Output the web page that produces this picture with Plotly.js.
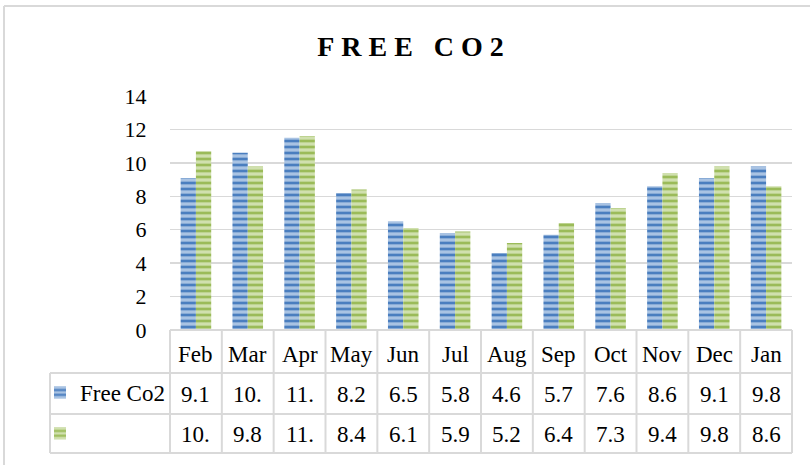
<!DOCTYPE html>
<html>
<head>
<meta charset="utf-8">
<script src="https://cdn.plot.ly/plotly-3.0.1.min.js"></script>
<style>html,body{margin:0;padding:0;background:#fff;}#chart{width:810px;height:465px;}</style>
</head>
<body>
<div id="chart"></div>
<script>
// ---- data ----
var months = ["Feb","Mar","Apr","May","Jun","Jul","Aug","Sep","Oct","Nov","Dec","Jan"];
var freeCo2 = [9.1,10.6,11.5,8.2,6.5,5.8,4.6,5.7,7.6,8.6,9.1,9.8];
var series2 = [10.7,9.8,11.6,8.4,6.1,5.9,5.2,6.4,7.3,9.4,9.8,8.6];
var seriesNames = ["Free Co2", "\u00A0"];
var yTicks = [0,2,4,6,8,10,12,14];
var titleText = "FREE CO2";

// ---- geometry helpers (pixels -> paper) ----
var W = 810, H = 465, ML = 170, MR = 18, MT = 96, MB = 135;
var PW = W - ML - MR, PH = H - MT - MB;
function px(x){ return (x - ML) / PW; }
function py(y){ return (H - MB - y) / PH; }

var grid = '#d9d9d9';
var serif = 'Liberation Serif, Times New Roman, serif';

// Excel-like truncated cell text
function cell(v){ return String(v).slice(0,3); }

var traces = [
  {type:'bar', x:months, y:freeCo2, name:seriesNames[0], legendgroup:'a',
   marker:{color:'#a9c3e3', line:{width:0},
     pattern:{shape:'-', fgcolor:'#4a7ebf', bgcolor:'#a9c3e3', size:6, solidity:0.45}},
   hoverinfo:'skip'},
  {type:'bar', x:months, y:series2, name:seriesNames[1], legendgroup:'b',
   marker:{color:'#d0e0ae', line:{width:0},
     pattern:{shape:'-', fgcolor:'#9bbb59', bgcolor:'#d0e0ae', size:6, solidity:0.45}},
   hoverinfo:'skip'}
];

var shapes = [];
var n = months.length;
var yTop = py(330), yR1 = py(373), yR2 = py(414), yBot = py(453);
var xLeg = px(50), xRight = px(792);
function hline(x0,x1,y){ shapes.push({type:'line', xref:'paper', yref:'paper', x0:x0, x1:x1, y0:y, y1:y, line:{color:grid, width:2}}); }
function vline(x,y0,y1){ shapes.push({type:'line', xref:'paper', yref:'paper', x0:x, x1:x, y0:y0, y1:y1, line:{color:grid, width:2}}); }
hline(0, xRight, yTop);
hline(xLeg, xRight, yR1);
hline(xLeg, xRight, yR2);
hline(xLeg, xRight, yBot);
vline(xLeg, yR1, yBot);
for (var i = 0; i <= n; i++) {
  vline(i / n * xRight, yTop, yBot);
}
// outer chart frame (left and top)
vline(px(4), py(6), py(H));
hline(px(4), px(W), py(6));

var annotations = [];
var cw = xRight / n;
for (var j = 0; j < n; j++) {
  var cx = cw * (j + 0.5);
  annotations.push({xref:'paper', yref:'paper', x:cx, y:py(354), text:months[j], showarrow:false,
    xanchor:'center', yanchor:'middle', font:{family:serif, size:23, color:'#000'}});
  annotations.push({xref:'paper', yref:'paper', x:cx, y:py(394), text:cell(freeCo2[j]), showarrow:false,
    xanchor:'center', yanchor:'middle', font:{family:serif, size:23, color:'#000'}});
  annotations.push({xref:'paper', yref:'paper', x:cx, y:py(434), text:cell(series2[j]), showarrow:false,
    xanchor:'center', yanchor:'middle', font:{family:serif, size:23, color:'#000'}});
}

var spaced = titleText.split('').map(function(c){ return c === ' ' ? '\u00A0' : c; }).join('\u00A0');

var layout = {
  width: W, height: H,
  margin: {l:ML, r:MR, t:MT, b:MB, pad:0, autoexpand:false},
  paper_bgcolor:'#fff', plot_bgcolor:'#fff',
  title: {text: spaced, font:{family:serif, size:28, color:'#000', weight:'bold'},
          xref:'container', yref:'container', x:410.5/W, y:1-46/H, xanchor:'center', yanchor:'middle'},
  barmode:'group', bargap:0.41, bargroupgap:0,
  xaxis: {type:'category', range:[-0.5, n-0.5], showticklabels:false, showgrid:false,
          zeroline:false, showline:false, ticks:'', fixedrange:true, automargin:false},
  yaxis: {range:[0,14], tickvals:yTicks, ticktext:yTicks.map(String), showgrid:true, gridcolor:grid, gridwidth:1.5,
          zeroline:false, showline:false, ticks:'outside', ticklen:18, tickcolor:'rgba(0,0,0,0)',
          tickfont:{family:serif, size:22, color:'#000'}, fixedrange:true, automargin:false},
  showlegend:true,
  legend: {x:px(40), y:py(371), xanchor:'left', yanchor:'top', orientation:'v',
           font:{family:serif, size:23, color:'#000'}, tracegroupgap:8,
           bgcolor:'rgba(0,0,0,0)', borderwidth:0, itemclick:false, itemdoubleclick:false},
  shapes: shapes,
  annotations: annotations
};

Plotly.newPlot('chart', traces, layout, {displayModeBar:false, staticPlot:true});
</script>
</body>
</html>
